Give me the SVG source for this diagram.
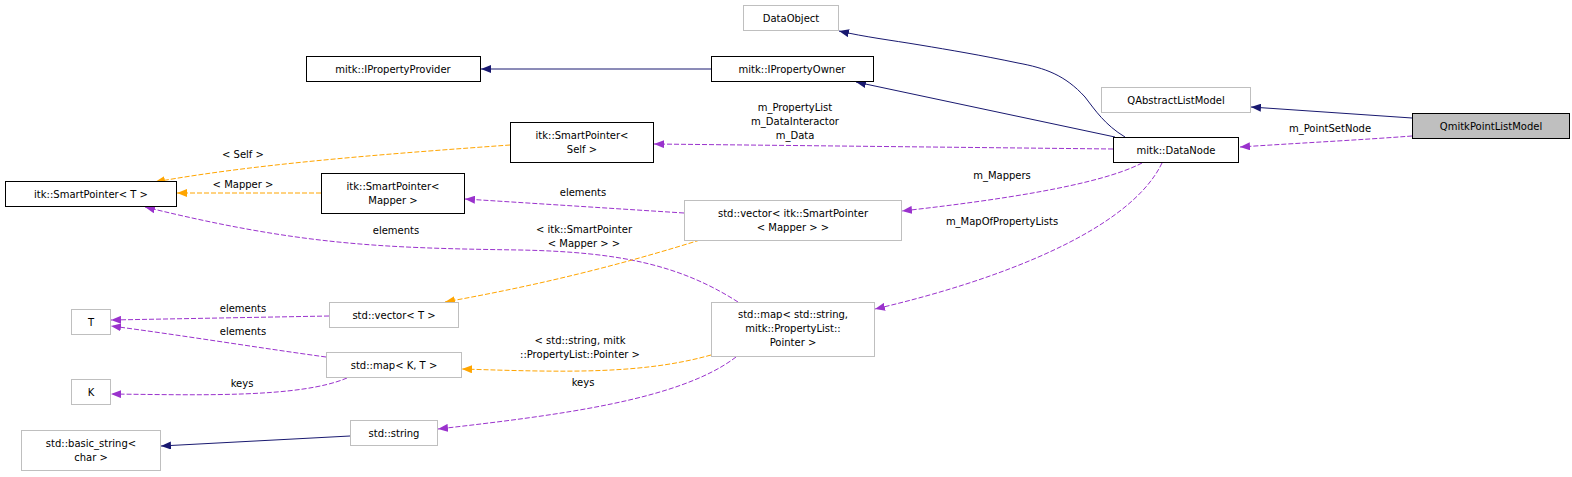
<svg xmlns="http://www.w3.org/2000/svg" width="1572" height="477" viewBox="0 0 1572 477">
<style>
text{font-family:"DejaVu Sans","Liberation Sans",sans-serif;font-size:10px;fill:#000;text-anchor:middle}
.b{fill:#fff;stroke:#000;stroke-width:1}
.g{fill:#fff;stroke:#bfbfbf;stroke-width:1}
.s{fill:#bfbfbf;stroke:#000;stroke-width:1}
.n{fill:none;stroke:#191970;stroke-width:1}
.p{fill:none;stroke:#9a32cd;stroke-width:1;stroke-dasharray:5,2}
.o{fill:none;stroke:#ffa500;stroke-width:1;stroke-dasharray:5,2}
</style>
<defs>
<marker id="an" markerWidth="10" markerHeight="8" refX="10" refY="4" orient="auto" markerUnits="userSpaceOnUse"><path d="M0,0 L10,4 L0,8 Z" fill="#191970"/></marker>
<marker id="ap" markerWidth="10" markerHeight="8" refX="10" refY="4" orient="auto" markerUnits="userSpaceOnUse"><path d="M0,0 L10,4 L0,8 Z" fill="#9a32cd"/></marker>
<marker id="ao" markerWidth="10" markerHeight="8" refX="10" refY="4" orient="auto" markerUnits="userSpaceOnUse"><path d="M0,0 L10,4 L0,8 Z" fill="#ffa500"/></marker>
</defs>
<g id="connectors">
<path class="n" marker-end="url(#an)" d="M711,69 L481,69"/>
<path class="n" marker-end="url(#an)" d="M1125,137 C1105,125 1095,110 1085,97 C1065,75 1045,68 1018,63 C980,55 950,50 920,45 C890,40 865,37 839,31"/>
<path class="n" marker-end="url(#an)" d="M1115,137 L856,82"/>
<path class="n" marker-end="url(#an)" d="M1412,118 L1251,107"/>
<path class="p" marker-end="url(#ap)" d="M1412,136 C1360,140 1300,143 1240,147"/>
<text x="1330" y="132">m_PointSetNode</text>
<path class="p" marker-end="url(#ap)" d="M1113,149 L654,144"/>
<text x="795" y="111">m_PropertyList</text>
<text x="795" y="125">m_DataInteractor</text>
<text x="795" y="139">m_Data</text>
<path class="p" marker-end="url(#ap)" d="M1142,163 C1100,185 1000,200 902,211"/>
<text x="1002" y="179">m_Mappers</text>
<path class="p" marker-end="url(#ap)" d="M1162,163 C1130,230 1000,280 875,309"/>
<text x="1002" y="225">m_MapOfPropertyLists</text>
<path class="p" marker-end="url(#ap)" d="M684,213 L465,199"/>
<text x="583" y="196">elements</text>
<path class="p" marker-end="url(#ap)" d="M738,302 C680,265 620,252 520,250 C380,248 300,245 145,207"/>
<text x="396" y="234">elements</text>
<path class="o" marker-end="url(#ao)" d="M510,145 C400,153 260,163 155,182"/>
<text x="243" y="158">&lt; Self &gt;</text>
<path class="o" marker-end="url(#ao)" d="M321,193 L177,193"/>
<text x="243" y="188">&lt; Mapper &gt;</text>
<path class="o" marker-end="url(#ao)" d="M700,240 C620,265 540,285 445,302"/>
<text x="584" y="233">&lt; itk::SmartPointer</text>
<text x="584" y="247">&lt; Mapper &gt; &gt;</text>
<path class="p" marker-end="url(#ap)" d="M329,316 L111,320"/>
<text x="243" y="312">elements</text>
<path class="p" marker-end="url(#ap)" d="M326,357 C260,348 180,335 111,326"/>
<text x="243" y="335">elements</text>
<path class="p" marker-end="url(#ap)" d="M347,378 C300,398 200,395 111,394"/>
<text x="242" y="387">keys</text>
<path class="o" marker-end="url(#ao)" d="M711,355 C640,375 560,372 462,369"/>
<text x="580" y="344">&lt; std::string, mitk</text>
<text x="580" y="358">::PropertyList::Pointer &gt;</text>
<path class="p" marker-end="url(#ap)" d="M736,357 C680,400 560,415 438,429"/>
<text x="583" y="386">keys</text>
<path class="n" marker-end="url(#an)" d="M350,436 L161,446"/>
</g>
<g id="n_dataobject"><rect class="g" x="743.5" y="5.5" width="95" height="25"/><text x="791" y="22">DataObject</text></g>
<g id="n_provider"><rect class="b" x="306.5" y="56.5" width="174" height="25"/><text x="393" y="73">mitk::IPropertyProvider</text></g>
<g id="n_owner"><rect class="b" x="711.5" y="56.5" width="162" height="25"/><text x="792" y="73">mitk::IPropertyOwner</text></g>
<g id="n_qalm"><rect class="g" x="1101.5" y="87.5" width="149" height="25"/><text x="1176" y="104">QAbstractListModel</text></g>
<g id="n_qpl"><rect class="s" x="1412.5" y="113.5" width="157" height="25"/><text x="1491" y="130">QmitkPointListModel</text></g>
<g id="n_datanode"><rect class="b" x="1113.5" y="137.5" width="125" height="25"/><text x="1176" y="154">mitk::DataNode</text></g>
<g id="n_spself"><rect class="b" x="510.5" y="122.5" width="143" height="40"/><text x="582" y="139">itk::SmartPointer&lt;</text><text x="582" y="153">Self &gt;</text></g>
<g id="n_spt"><rect class="b" x="5.5" y="181.5" width="171" height="25"/><text x="91" y="198">itk::SmartPointer&lt; T &gt;</text></g>
<g id="n_spmapper"><rect class="b" x="321.5" y="173.5" width="143" height="40"/><text x="393" y="190">itk::SmartPointer&lt;</text><text x="393" y="204">Mapper &gt;</text></g>
<g id="n_vecsp"><rect class="g" x="684.5" y="200.5" width="217" height="40"/><text x="793" y="217">std::vector&lt; itk::SmartPointer</text><text x="793" y="231">&lt; Mapper &gt; &gt;</text></g>
<g id="n_t"><rect class="g" x="71.5" y="309.5" width="39" height="25"/><text x="91" y="326">T</text></g>
<g id="n_vect"><rect class="g" x="329.5" y="302.5" width="129" height="25"/><text x="394" y="319">std::vector&lt; T &gt;</text></g>
<g id="n_mapkt"><rect class="g" x="326.5" y="352.5" width="135" height="25"/><text x="394" y="369">std::map&lt; K, T &gt;</text></g>
<g id="n_k"><rect class="g" x="71.5" y="379.5" width="39" height="25"/><text x="91" y="396">K</text></g>
<g id="n_mapstr"><rect class="g" x="711.5" y="302.5" width="163" height="54"/><text x="793" y="318">std::map&lt; std::string,</text><text x="793" y="332">mitk::PropertyList::</text><text x="793" y="346">Pointer &gt;</text></g>
<g id="n_string"><rect class="g" x="350.5" y="420.5" width="87" height="25"/><text x="394" y="437">std::string</text></g>
<g id="n_basic"><rect class="g" x="21.5" y="430.5" width="139" height="40"/><text x="91" y="447">std::basic_string&lt;</text><text x="91" y="461">char &gt;</text></g>
</svg>
